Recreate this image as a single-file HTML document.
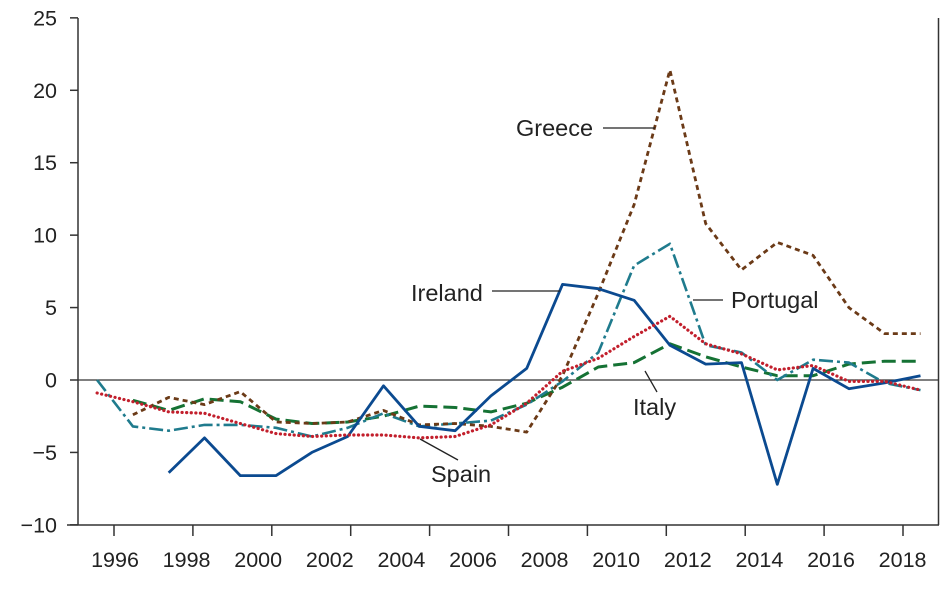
<!DOCTYPE html>
<html><head><meta charset="utf-8"><style>
body{margin:0;background:#fff;}
svg text{font-family:"Liberation Sans",Arial,sans-serif;fill:#222;}
</style></head><body>
<svg id="chart" width="951" height="585" viewBox="0 0 951 585" xmlns="http://www.w3.org/2000/svg"></svg>
<script>
const years=[1996,1997,1998,1999,2000,2001,2002,2003,2004,2005,2006,2007,2008,2009,2010,2011,2012,2013,2014,2015,2016,2017,2018,2019];
const greece=[null,-2.4,-1.2,-1.7,-0.8,-2.9,-3.0,-2.9,-2.1,-3.1,-3.0,-3.2,-3.6,0.3,6.0,12.1,21.4,10.8,7.6,9.5,8.6,5.0,3.2,3.2];
const ireland=[null,null,-6.4,-4.0,-6.6,-6.6,-5.0,-3.9,-0.4,-3.2,-3.5,-1.1,0.8,6.6,6.3,5.5,2.4,1.1,1.2,-7.2,0.8,-0.6,-0.2,0.3];
const portugal=[0.0,-3.2,-3.5,-3.1,-3.1,-3.3,-3.9,-3.3,-2.3,-3.2,-3.0,-2.8,-1.7,-0.1,1.9,7.9,9.4,2.4,1.9,0.0,1.4,1.2,-0.2,-0.7];
const italy=[null,-1.4,-2.1,-1.3,-1.5,-2.7,-3.0,-2.9,-2.5,-1.8,-1.9,-2.2,-1.6,-0.5,0.9,1.2,2.5,1.6,0.9,0.3,0.3,1.1,1.3,1.3];
const spain=[-0.9,-1.5,-2.2,-2.3,-3.0,-3.7,-3.9,-3.8,-3.8,-4.0,-3.9,-3.1,-1.6,0.6,1.5,3.0,4.4,2.5,1.8,0.7,1.0,-0.1,-0.1,-0.7];
const yTicks=[-10,-5,0,5,10,15,20,25];
const yTickLabels=["\u221210","\u22125","0","5","10","15","20","25"];
const xTickLabels=["1996","1998","2000","2002","2004","2006","2008","2010","2012","2014","2016","2018"];

const svg=document.getElementById('chart');
const NS='http://www.w3.org/2000/svg';
function mk(tag,attrs,parent){const e=document.createElementNS(NS,tag);for(const k in attrs)e.setAttribute(k,attrs[k]);(parent||svg).appendChild(e);return e;}
const y0=380, pxPer=507/35;
function yS(v){return y0-v*pxPer;}
function xS(t){return 115+(t-1996.5)*35.8;}
function tickX(i){return 114+i*78.9;}
function labelX(i){return 115+i*71.6;}

const ax=mk('g',{});


const yl=mk('line',{x1:78,y1:18,x2:78,y2:525,stroke:'#333','stroke-width':1.5},ax);


const xl=mk('line',{x1:67,y1:525,x2:939,y2:525,stroke:'#333','stroke-width':1.5},ax);


const rl=mk('line',{x1:938.5,y1:18,x2:938.5,y2:525,stroke:'#333','stroke-width':1.5},ax);


const zl=mk('line',{x1:78,y1:yS(0),x2:938,y2:yS(0),stroke:'#333','stroke-width':1.3},ax);


yTicks.forEach((v,i)=>{
  const t=mk('line',{x1:70,y1:yS(v),x2:78,y2:yS(v),stroke:'#333','stroke-width':1.5},ax);
  
  
  const l=mk('text',{x:57,y:yS(v)+7.5,'text-anchor':'end','font-size':21.5},ax);
  
  
  l.textContent=yTickLabels[i];
});
xTickLabels.forEach((s,i)=>{
  const t=mk('line',{x1:tickX(i),y1:525,x2:tickX(i),y2:536,stroke:'#333','stroke-width':1.5},ax);
  
  
  const l=mk('text',{x:labelX(i),y:567,'text-anchor':'middle','font-size':21.5},ax);
  
  
  l.textContent=s;
});

function series(name,vals,color,dash,w,cap){
  let d='';let pen=false;
  vals.forEach((v,i)=>{ if(v===null){pen=false;return;} d+=(pen?'L':'M')+xS(years[i]).toFixed(1)+','+yS(v).toFixed(1); pen=true;});
  const p=mk('path',{d:d,fill:'none',stroke:color,'stroke-width':w,'stroke-dasharray':dash,'stroke-linejoin':'round','stroke-linecap':cap||'butt'});
  
  
}
series('series-italy',italy,'#157234','14,6',3);
series('series-portugal',portugal,'#1f7b8d','14,4,3,4',2.6);
series('series-greece',greece,'#6b3a17','5,4',2.8);
series('series-ireland',ireland,'#0b4a90','',2.8);
series('series-spain',spain,'#c21f2c','0.1,4.5',3.2,'round');

function label(name,text,tx,ty,x1,y1,x2,y2){
  const g=mk('g',{});
  
  
  mk('line',{x1:x1,y1:y1,x2:x2,y2:y2,stroke:'#222','stroke-width':1.3},g);
  const t=mk('text',{x:tx,y:ty,'font-size':23.5},g);
  t.textContent=text;
}
label('greece-label','Greece',516,136,603,128,655,128);
label('ireland-label','Ireland',411,301,492,291,560,291);
label('portugal-label','Portugal',731,308,693,300,723,300);
label('italy-label','Italy',633,415,657,392,645,371);
label('spain-label','Spain',431,482,458,460,420,439);
</script>
</body></html>
